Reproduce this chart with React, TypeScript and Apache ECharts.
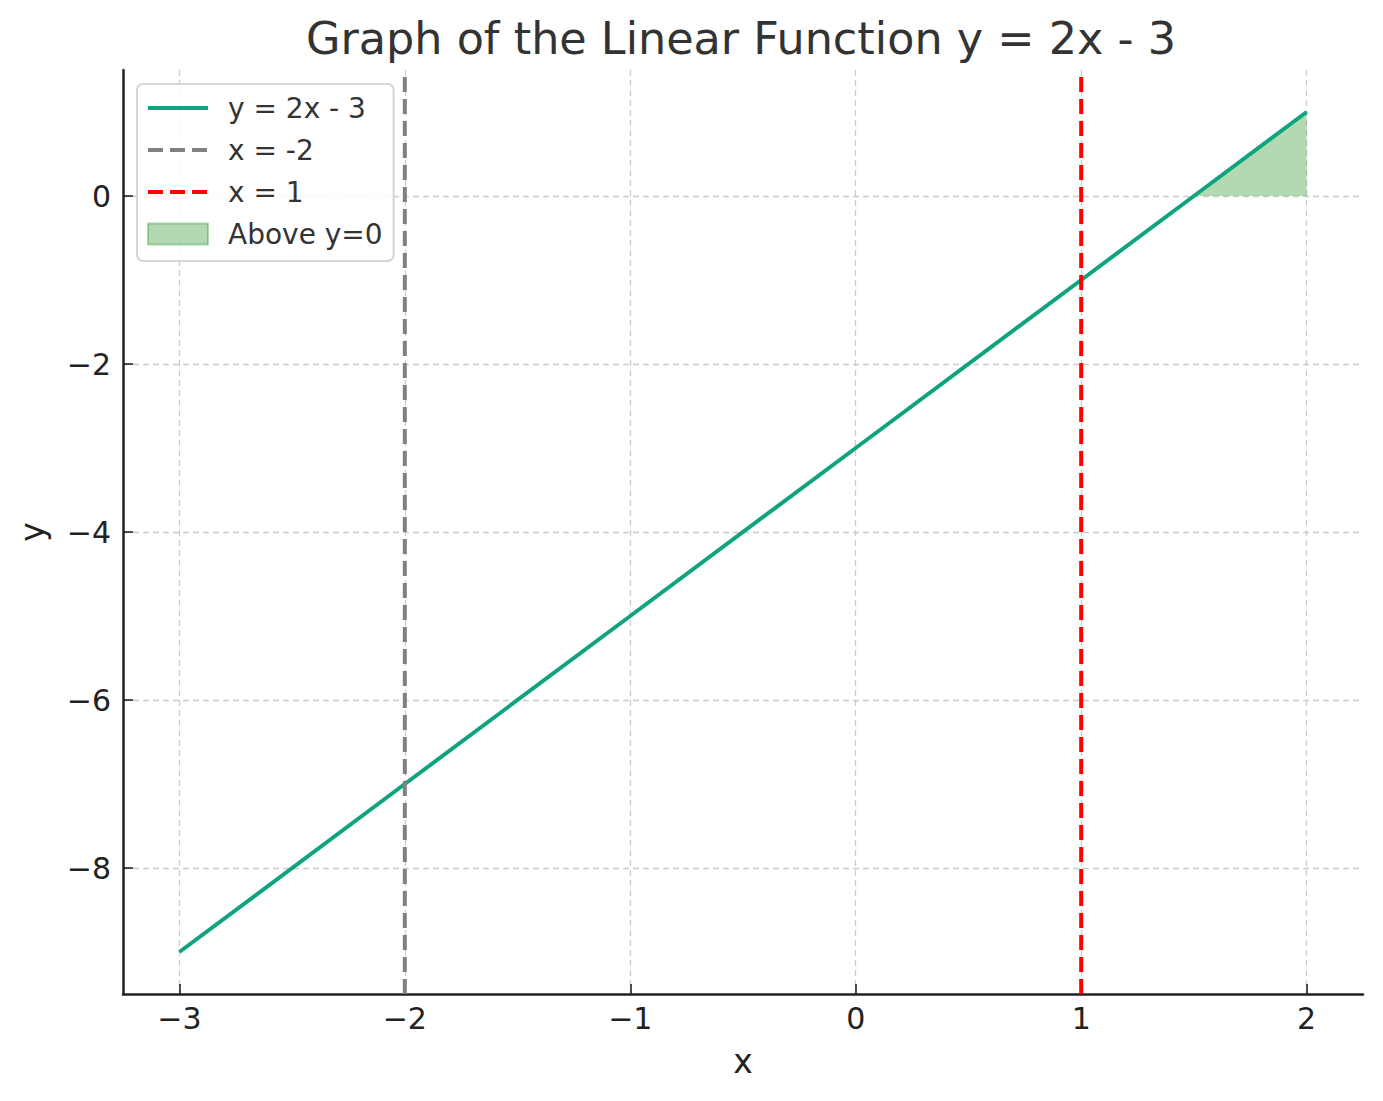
import React, { useEffect, useRef } from "react";
import * as echarts from "echarts";

const lineX = [-3, -2, -1, 0, 1, 1.5, 2];
const lineY = [-9, -7, -5, -3, -1, 0, 1];
const fillX = [1.5, 2];
const fillY = [0, 1];
const vLineGrayX = -2;
const vLineRedX = 1;
const xTicks = [-3, -2, -1, 0, 1, 2];
const yTicks = [-8, -6, -4, -2, 0];
const xRange = [-3.25, 2.25];
const yRange = [-9.5, 1.5];
const seriesNames = ["y = 2x - 3", "x = -2", "x = 1", "Above y=0"];

const FONT = "DejaVu Sans";
const fmt = (v: number) => (v < 0 ? "\u2212" + Math.abs(v) : String(v));
const hiddenSymbol = { color: "rgba(0,0,0,0)", borderWidth: 0, opacity: 0 };

export default function App() {
  const ref = useRef<HTMLDivElement>(null);
  useEffect(() => {
    if (!ref.current) return;
    const chart = echarts.init(ref.current, undefined, { renderer: "svg" });
    const pairs = (xs: number[], ys: number[]) => xs.map((x, i) => [x, ys[i]]);
    const option: any = {
      animation: false,
      backgroundColor: "#ffffff",
      textStyle: { fontFamily: FONT },
      title: {
        text: "Graph of the Linear Function y = 2x - 3",
        left: 306,
        top: 16,
        padding: 0,
        textStyle: { fontFamily: FONT, fontSize: 44.5, fontWeight: "normal", color: "#333333" },
      },
      grid: { left: 123, right: 20, top: 70, bottom: 107, outerBoundsMode: "none" },
      legend: {
        orient: "vertical",
        left: 137,
        top: 84,
        padding: [10, 11, 13, 9],
        itemWidth: 60,
        itemHeight: 21,
        itemGap: 14,
        backgroundColor: "rgba(255,255,255,0.85)",
        borderColor: "#d6d6d6",
        borderWidth: 2,
        borderRadius: 6,
        textStyle: { fontFamily: FONT, fontSize: 28, color: "#333333", padding: [0, 0, 0, 15] },
        data: [
          { name: seriesNames[0], itemStyle: hiddenSymbol, lineStyle: { width: 4, color: "#10a37f" } },
          { name: seriesNames[1], itemStyle: hiddenSymbol, lineStyle: { width: 4, color: "#808080", type: [15, 7] } },
          { name: seriesNames[2], itemStyle: hiddenSymbol, lineStyle: { width: 4, color: "#ff0000", type: [15, 7] } },
          {
            name: seriesNames[3],
            icon: "rect",
            itemStyle: { color: "rgba(0,128,0,0.3)", borderColor: "rgba(0,128,0,0.3)", borderWidth: 2 },
          },
        ],
      },
      xAxis: {
        type: "value",
        min: xRange[0],
        max: xRange[1],
        name: "x",
        nameLocation: "middle",
        nameGap: 51,
        nameTextStyle: { fontFamily: FONT, fontSize: 33, color: "#222222" },
        axisLine: { show: true, onZero: false, lineStyle: { color: "#222222", width: 2.5 } },
        axisTick: { show: true, inside: true, length: 10, customValues: xTicks, lineStyle: { color: "#222222", width: 1.6 } },
        axisLabel: { customValues: xTicks, formatter: fmt, fontFamily: FONT, fontSize: 30, color: "#222222", margin: 9 },
        splitLine: { show: true, lineStyle: { color: "#cccccc", width: 1.3, type: [6, 4] } },
      },
      yAxis: {
        type: "value",
        min: yRange[0],
        max: yRange[1],
        name: "y",
        nameLocation: "middle",
        nameGap: 74,
        nameTextStyle: { fontFamily: FONT, fontSize: 33, color: "#222222" },
        axisLine: { show: true, onZero: false, lineStyle: { color: "#222222", width: 2.5 } },
        axisTick: { show: true, inside: true, length: 10, customValues: yTicks, lineStyle: { color: "#222222", width: 1.6 } },
        axisLabel: { customValues: yTicks, formatter: fmt, fontFamily: FONT, fontSize: 30, color: "#222222", margin: 12 },
        splitLine: { show: true, lineStyle: { color: "#cccccc", width: 1.3, type: [6, 4] } },
      },
      series: [
        {
          name: seriesNames[3],
          type: "line",
          data: pairs(fillX, fillY),
          symbol: "none",
          z: 1,
          color: "rgba(0,128,0,0.3)",
          lineStyle: { width: 0 },
          areaStyle: { color: "rgba(0,128,0,0.3)", opacity: 1 },
        },
        {
          name: seriesNames[0],
          type: "line",
          data: pairs(lineX, lineY),
          symbol: "none",
          z: 3,
          color: "#10a37f",
          lineStyle: { color: "#10a37f", width: 4 },
        },
        {
          name: seriesNames[1],
          type: "line",
          data: [[vLineGrayX, yRange[0]], [vLineGrayX, yRange[1]]],
          symbol: "none",
          z: 4,
          color: "#808080",
          lineStyle: { color: "#808080", width: 4, type: [15, 7] },
        },
        {
          name: seriesNames[2],
          type: "line",
          data: [[vLineRedX, yRange[0]], [vLineRedX, yRange[1]]],
          symbol: "none",
          z: 4,
          color: "#ff0000",
          lineStyle: { color: "#ff0000", width: 4, type: [15, 7] },
        },
      ],
    };
    chart.setOption(option);
    return () => chart.dispose();
  }, []);
  return (
    <div
      ref={ref}
      style={{ position: "fixed", left: 0, top: 0, width: 1383, height: 1101 }}
    />
  );
}
